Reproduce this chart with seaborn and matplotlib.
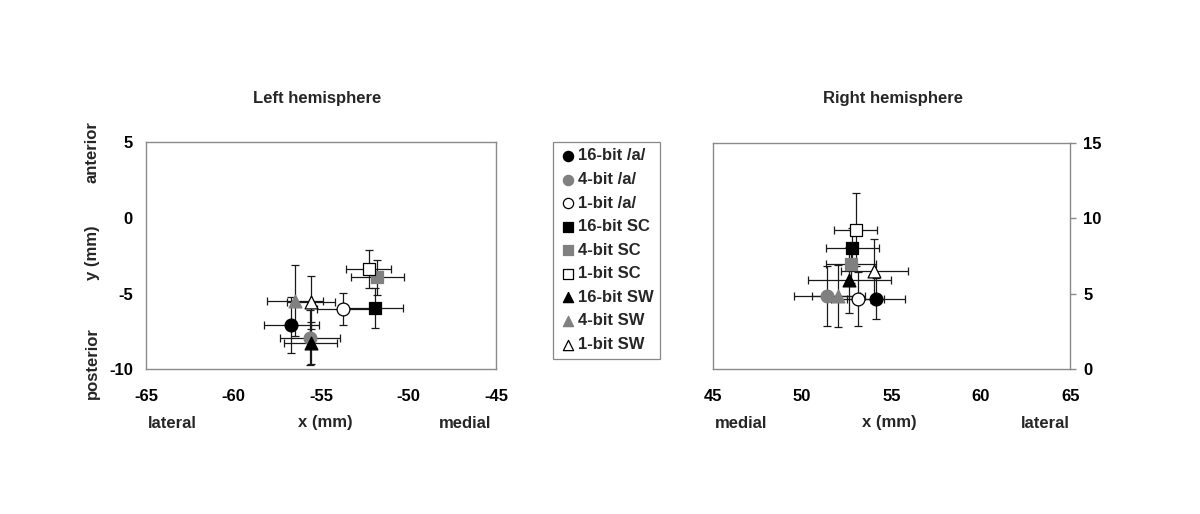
import matplotlib
matplotlib.use("Agg")
import matplotlib.pyplot as plt
import seaborn as sns
import pandas as pd

sns.set_style("white")
plt.rcParams['font.family'] = ['Liberation Sans', 'DejaVu Sans']
plt.rcParams['font.weight'] = 'bold'
plt.rcParams['axes.unicode_minus'] = False

labels = ["16-bit /a/", "4-bit /a/", "1-bit /a/",
          "16-bit SC", "4-bit SC", "1-bit SC",
          "16-bit SW", "4-bit SW", "1-bit SW"]
markers = ["o", "o", "o", "s", "s", "s", "^", "^", "^"]
face = ["black", "#808080", "white"] * 3
edge = ["black", "#808080", "black"] * 3

# Left hemisphere
left_x = [-56.7, -55.63, -53.72, -51.9, -51.78, -52.28, -55.6, -56.49, -55.59]
left_y = [-7.07, -7.9, -6.01, -5.93, -3.92, -3.37, -8.28, -5.46, -5.57]
left_xerr = [1.57, 1.71, 1.54, 1.59, 1.5, 1.3, 1.5, 1.62, 1.38]
left_yerr = [1.85, 1.8, 1.05, 1.32, 1.15, 1.28, 1.4, 2.33, 1.76]

# Right hemisphere
right_x = [54.14, 51.4, 53.1, 52.8, 52.74, 52.99, 52.65, 52.03, 54.03]
right_y = [4.68, 4.84, 4.64, 8.04, 6.94, 9.26, 5.9, 4.86, 6.5]
right_xerr = [1.63, 1.85, 1.5, 1.48, 1.4, 1.18, 2.3, 1.5, 1.88]
right_yerr = [1.37, 1.97, 1.8, 1.3, 1.2, 2.45, 2.2, 2.05, 2.1]

fig = plt.figure(figsize=(12, 5.14), dpi=100)
axL = fig.add_axes([0.1217, 0.2815, 0.2917, 0.4416])
axR = fig.add_axes([0.594, 0.282, 0.2978, 0.4397])


def draw(ax, xs, ys, xe, ye):
    df = pd.DataFrame({"x": xs, "y": ys, "xerr": xe, "yerr": ye, "label": labels})
    for i, r in df.iterrows():
        ax.errorbar(r["x"], r["y"], xerr=r["xerr"], yerr=r["yerr"], fmt="none",
                    ecolor="#1a1a1a", elinewidth=0.9, capsize=3, capthick=0.9, zorder=2)
    for i, r in df.iterrows():
        sns.scatterplot(x=[r["x"]], y=[r["y"]], marker=markers[i], color=face[i],
                        edgecolor=edge[i], linewidth=0.9, s=85, ax=ax,
                        label=r["label"], zorder=3)


draw(axL, left_x, left_y, left_xerr, left_yerr)
draw(axR, right_x, right_y, right_xerr, right_yerr)

handles, labs = axL.get_legend_handles_labels()
axL.get_legend().remove()
axR.get_legend().remove()

axL.set_xlim(-65, -45)
axL.set_ylim(-10, 5)
axL.set_xticks([-65, -60, -55, -50, -45])
axL.set_yticks([-10, -5, 0, 5])

axR.set_xlim(45, 65)
axR.set_ylim(0, 15)
axR.set_xticks([45, 50, 55, 60, 65])
axR.set_yticks([0, 5, 10, 15])
axR.yaxis.tick_right()

for ax in (axL, axR):
    for sp in ax.spines.values():
        sp.set_color("#8a8a8a")
        sp.set_linewidth(1.0)
    ax.tick_params(direction="out", length=4, width=1, color="#8a8a8a",
                   labelsize=12, labelcolor="black")
    ax.tick_params(axis="x", pad=10.5)
    ax.tick_params(axis="y", pad=5.5)
    ax.set_xlabel("")
    ax.set_ylabel("")
    for t in ax.get_xticklabels() + ax.get_yticklabels():
        t.set_fontweight("bold")

W, H = 1200, 514
def ft(px, py, s, **kw):
    fig.text(px / W, 1 - py / H, s, ha="center", va="center", fontsize=12,
             fontweight="bold", **kw)

ft(317, 99, "Left hemisphere")
ft(893, 99, "Right hemisphere")
ft(92, 152, "anterior", rotation=90)
ft(92, 253, "y (mm)", rotation=90)
ft(92, 363, "posterior", rotation=90)
ft(172, 423, "lateral")
ft(325, 423, "x (mm)")
ft(465, 423, "medial")
ft(741, 423, "medial")
ft(889, 423, "x (mm)")
ft(1045, 423, "lateral")

leg = fig.legend(handles, labs, loc="upper left",
                 bbox_to_anchor=(552.7 / W, 1 - 141.7 / H),
                 frameon=True, fancybox=False, edgecolor="#6a6a6a",
                 prop={"weight": "bold", "size": 12},
                 handletextpad=0.1, labelspacing=0.515, borderpad=0.4,
                 borderaxespad=0.0, handlelength=1.0, markerscale=0.8)
leg.get_frame().set_linewidth(0.9)

fig.savefig("out.png", dpi=100)
